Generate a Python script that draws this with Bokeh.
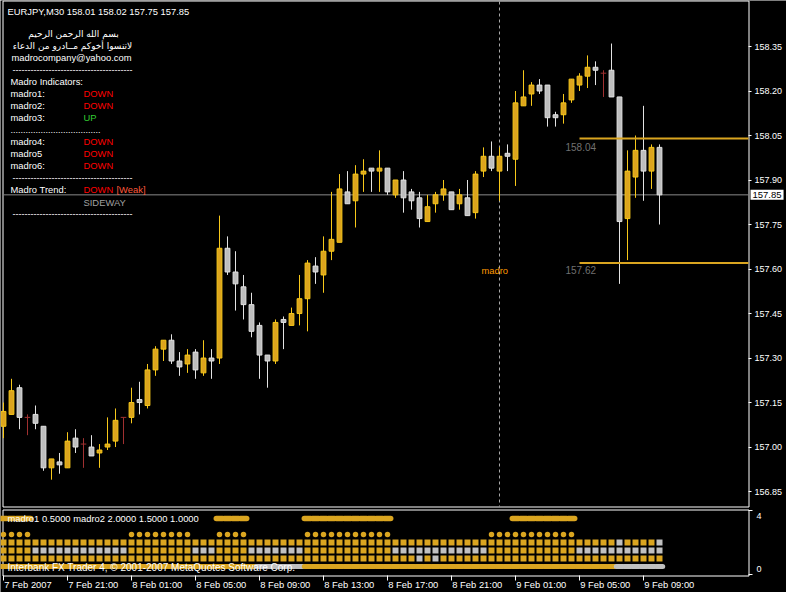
from bokeh.plotting import figure
from bokeh.models import Range1d, FixedTicker, Label, NumeralTickFormatter
from bokeh.embed import file_html
from bokeh.resources import INLINE

# ------------------------------------------------------------------ data
symbol_title = "EURJPY,M30  158.01 158.02 157.75 157.85"

opens = [157.07, 157.11, 157.20, 157.10, 157.11, 157.07, 156.93, 156.95, 156.93, 157.03,
         157.01, 157.00, 156.98, 157.00, 157.02, 157.10, 157.10, 157.16, 157.14, 157.26,
         157.33, 157.36, 157.29, 157.28, 157.32, 157.25, 157.30, 157.30, 157.67, 157.59,
         157.54, 157.48, 157.41, 157.31, 157.29, 157.43, 157.41, 157.45, 157.50, 157.61,
         157.58, 157.66, 157.69, 157.86, 157.83, 157.92, 157.94, 157.93, 157.94, 157.85,
         157.90, 157.86, 157.84, 157.76, 157.82, 157.85, 157.86, 157.82, 157.84, 157.79,
         157.93, 157.98, 157.93, 157.99, 157.97, 158.15, 158.19, 158.22, 158.22, 158.12,
         158.12, 158.17, 158.22, 158.25, 158.28, 158.26, 158.27, 158.18, 157.77, 157.91,
         158.00, 157.93, 158.01]
highs = [157.15, 157.23, 157.21, 157.11, 157.14, 157.07, 156.96, 156.98, 157.05, 157.06,
         157.03, 157.04, 157.01, 157.10, 157.13, 157.10, 157.20, 157.22, 157.28, 157.34,
         157.36, 157.38, 157.32, 157.33, 157.33, 157.36, 157.33, 157.78, 157.71, 157.66,
         157.58, 157.52, 157.42, 157.31, 157.43, 157.44, 157.47, 157.58, 157.63, 157.64,
         157.71, 157.86, 157.92, 157.93, 157.95, 157.97, 157.94, 158.00, 157.94, 157.90,
         157.93, 157.87, 157.86, 157.85, 157.86, 157.90, 157.86, 157.87, 157.90, 157.93,
         158.01, 158.03, 158.01, 158.02, 158.20, 158.27, 158.23, 158.24, 158.22, 158.13,
         158.19, 158.24, 158.26, 158.32, 158.30, 158.27, 158.36, 158.18, 158.00, 158.05,
         158.15, 158.02, 158.02]
lows = [157.03, 157.11, 157.06, 157.04, 157.06, 156.92, 156.89, 156.91, 156.93, 156.98,
        156.93, 156.97, 156.93, 156.99, 157.00, 157.01, 157.08, 157.11, 157.13, 157.24,
        157.29, 157.28, 157.24, 157.25, 157.23, 157.24, 157.23, 157.28, 157.58, 157.46,
        157.43, 157.37, 157.23, 157.20, 157.28, 157.33, 157.41, 157.41, 157.39, 157.55,
        157.52, 157.63, 157.69, 157.82, 157.74, 157.86, 157.86, 157.86, 157.85, 157.84,
        157.79, 157.80, 157.74, 157.76, 157.79, 157.83, 157.80, 157.80, 157.78, 157.77,
        157.91, 157.93, 157.83, 157.93, 157.88, 158.15, 158.15, 158.19, 158.08, 158.08,
        158.09, 158.16, 158.20, 158.21, 158.22, 158.18, 158.18, 157.55, 157.63, 157.84,
        157.83, 157.87, 157.75]
closes = [157.12, 157.19, 157.10, 157.10, 157.08, 156.93, 156.96, 156.94, 157.02, 157.00,
          157.01, 156.97, 156.99, 157.01, 157.09, 157.10, 157.15, 157.15, 157.26, 157.33,
          157.36, 157.29, 157.27, 157.31, 157.26, 157.30, 157.29, 157.67, 157.59, 157.55,
          157.48, 157.39, 157.31, 157.29, 157.42, 157.42, 157.45, 157.50, 157.62, 157.59,
          157.66, 157.70, 157.87, 157.82, 157.92, 157.93, 157.93, 157.94, 157.86, 157.90,
          157.84, 157.83, 157.77, 157.81, 157.85, 157.87, 157.80, 157.85, 157.78, 157.92,
          157.98, 157.94, 157.98, 157.98, 158.16, 158.18, 158.22, 158.20, 158.11, 158.11,
          158.16, 158.24, 158.25, 158.28, 158.27, 158.26, 158.18, 157.76, 157.93, 158.00,
          157.93, 158.01, 157.85]

price_ticks = [156.85, 157.00, 157.15, 157.30, 157.45, 157.60, 157.75, 157.90, 158.05, 158.20, 158.35]
price_tick_labels = ["156.85", "157.00", "157.15", "157.30", "157.45", "157.60",
                     "157.75", "157.90", "158.05", "158.20", "158.35"]
time_ticks = [0, 8, 16, 24, 32, 40, 48, 56, 64, 72, 80]
time_tick_labels = ["7 Feb 2007", "7 Feb 21:00", "8 Feb 01:00", "8 Feb 05:00", "8 Feb 09:00",
                    "8 Feb 13:00", "8 Feb 17:00", "8 Feb 21:00", "9 Feb 01:00", "9 Feb 05:00",
                    "9 Feb 09:00"]
sub_ticks = [0, 4]
sub_tick_labels = ["0", "4"]

level_values = [158.04, 157.62]
level_labels = ["158.04", "157.62"]
level_start_bar = 72
marker_bar = 62

indicator_names = ["madro1:", "madro2:", "madro3:", "madro4:", "madro5", "madro6:"]
indicator_states = ["DOWN", "DOWN", "UP", "DOWN", "DOWN", "DOWN"]

# sub window rows (1 = gold / on, 0 = silver / off), one value per bar
row_a = [1, 1, 1, 1, 0, 0, 0, 0, 0, 0,  0, 0, 0, 0, 0, 0, 0, 0, 0, 0,
         0, 0, 0, 0, 0, 0, 0, 1, 1, 1,  1, 0, 0, 0, 0, 0, 0, 0, 1, 1,
         1, 1, 1, 1, 1, 1, 1, 1, 1, 0,  0, 0, 0, 0, 0, 0, 0, 0, 0, 0,
         0, 0, 0, 0, 1, 1, 1, 1, 1, 1,  1, 1, 0, 0, 0, 0, 0, 0, 0, 0,
         0, 0, 0]
row_b = [1, 1, 1, 1, 0, 0, 0, 0, 0, 0,  0, 0, 0, 0, 0, 0, 1, 1, 1, 1,
         1, 1, 1, 1, 0, 0, 0, 1, 1, 1,  1, 0, 0, 0, 0, 0, 0, 0, 1, 1,
         1, 1, 1, 1, 1, 1, 1, 1, 1, 0,  0, 0, 0, 0, 0, 0, 0, 0, 0, 0,
         0, 1, 1, 1, 1, 1, 1, 1, 1, 1,  1, 1, 0, 0, 0, 0, 0, 0, 0, 0,
         0, 0, 0]
row_c = [1, 1, 1, 1, 1, 1, 1, 1, 1, 1,  1, 1, 1, 1, 1, 1, 1, 1, 1, 1,
         1, 1, 1, 1, 1, 1, 1, 1, 1, 1,  1, 1, 1, 1, 1, 1, 1, 1, 1, 1,
         1, 1, 1, 1, 1, 1, 1, 1, 1, 1,  1, 1, 1, 1, 1, 1, 1, 1, 1, 1,
         1, 1, 1, 1, 1, 1, 1, 1, 1, 1,  1, 1, 1, 1, 1, 1, 1, 0, 1, 1,
         1, 1, 0]
row_d = [1, 1, 1, 1, 0, 0, 0, 0, 0, 0,  0, 0, 0, 0, 0, 0, 1, 1, 1, 1,
         1, 1, 1, 1, 0, 0, 0, 1, 1, 1,  1, 0, 0, 0, 0, 0, 0, 0, 1, 1,
         1, 1, 1, 1, 1, 1, 1, 1, 1, 0,  0, 0, 0, 0, 0, 0, 0, 0, 0, 0,
         0, 1, 1, 1, 1, 1, 1, 1, 1, 1,  1, 1, 0, 0, 0, 0, 0, 0, 0, 0,
         0, 0, 0]
row_e = [1, 1, 1, 1, 1, 1, 1, 1, 1, 1,  1, 1, 1, 1, 1, 1, 1, 1, 1, 1,
         1, 1, 1, 1, 1, 1, 1, 1, 1, 1,  1, 1, 1, 1, 1, 1, 1, 1, 1, 1,
         1, 1, 1, 1, 1, 1, 1, 1, 1, 1,  1, 1, 0, 1, 0, 1, 1, 1, 1, 1,
         1, 1, 1, 1, 1, 1, 1, 1, 1, 1,  1, 1, 1, 1, 1, 1, 1, 1, 1, 1,
         1, 1, 1]
row_f = [1, 1, 1, 1, 1, 1, 1, 1, 1, 1,  1, 1, 1, 1, 1, 1, 1, 1, 1, 1,
         1, 1, 1, 1, 1, 1, 1, 1, 1, 1,  1, 1, 0, 0, 0, 0, 0, 0, 1, 1,
         1, 1, 1, 1, 1, 1, 1, 1, 1, 1,  1, 1, 1, 1, 1, 1, 1, 1, 1, 1,
         1, 1, 1, 1, 1, 1, 1, 1, 1, 1,  1, 1, 1, 1, 1, 1, 1, 0, 0, 0,
         0, 0, 0]
row_levels = {"a": 3.5, "b": 2.5, "c": 2.0, "d": 1.5, "e": 1.0, "f": 0.5}
sub_legend = "madro1 0.5000  madro2 2.0000 1.5000 1.0000"
copyright_text = "Interbank FX Trader 4, \u00a9 2001-2007 MetaQuotes Software Corp."

# ------------------------------------------------------------------ style
BG = "#000000"
FG = "#FFFFFF"
GOLD = "#DAA520"
SILVER = "#C0C0C0"
BULL_FILL, BULL_LINE = "#DCA41E", "#F7C81A"
BEAR_FILL, BEAR_LINE = "#BEBEBE", "#E2E2E2"
DOJI = "#A03030"
FONT = "Liberation Sans"
FS = "9.4px"

n = len(opens)
bars = list(range(n))


# screen-pixel -> data helpers (layout only: bar slot 8 px, price 296.7 px/unit, sub 16 px/unit)
def bx(px):
    return (px - 3) / 8.0


def py(pix):
    return 158.35 - (pix - 46) / 296.7


def sv(pix):
    return (574 - pix) / 16.0


W, H = 786, 592
p = figure(width=W, height=H,
           x_range=Range1d(bx(0), bx(W)), y_range=Range1d(py(H), py(0)),
           output_backend="svg", toolbar_location=None,
           x_axis_location=None, y_axis_location="right")
p.extra_y_ranges = {"sub": Range1d(sv(H), sv(0))}
p.min_border_left = 0
p.min_border_right = 0
p.min_border_top = 0
p.min_border_bottom = 0
p.background_fill_color = BG
p.border_fill_color = BG
p.outline_line_color = None
p.grid.visible = False

# price axis, pinned to the right edge of the main window
ya = p.yaxis[0]
ya.fixed_location = bx(748)
ya.ticker = FixedTicker(ticks=price_ticks)
ya.formatter = NumeralTickFormatter(format="0.00")
ya.major_label_overrides = {t: l for t, l in zip(price_ticks, price_tick_labels)}
ya.major_label_text_color = FG
ya.major_label_text_font = FONT
ya.major_label_text_font_size = "9px"
ya.major_tick_line_color = FG
ya.major_tick_out = 3
ya.major_tick_in = 0
ya.minor_tick_line_color = None
ya.axis_line_color = None
ya.major_label_standoff = 3

# window frames
p.quad(left=[bx(2.5)], right=[bx(748.5)], top=[py(0.5)], bottom=[py(506.5)],
       fill_color=None, line_color=FG, line_width=1)
p.quad(left=[bx(2.5)], right=[bx(748.5)], top=[sv(509.5)], bottom=[sv(575.5)],
       fill_color=None, line_color=FG, line_width=1, y_range_name="sub")

# last price line and vertical marker
p.segment(x0=[bx(3)], x1=[bx(748)], y0=[closes[-1]], y1=[closes[-1]],
          line_color="#8A8A8A", line_width=1)
p.segment(x0=[marker_bar], x1=[marker_bar], y0=[py(1)], y1=[py(506)],
          line_color="#A8A8A8", line_width=1, line_dash="3 3")

# candles
wick_col, body_x, body_top, body_bot, body_fill, body_line = [], [], [], [], [], []
doji_x, doji_y = [], []
for i in bars:
    o, c = opens[i], closes[i]
    if c > o:
        wick_col.append(BULL_LINE)
        body_x.append(i); body_top.append(c); body_bot.append(o)
        body_fill.append(BULL_FILL); body_line.append(BULL_LINE)
    elif c < o:
        wick_col.append(BEAR_LINE)
        body_x.append(i); body_top.append(o); body_bot.append(c)
        body_fill.append(BEAR_FILL); body_line.append(BEAR_LINE)
    else:
        wick_col.append(DOJI)
        doji_x.append(i); doji_y.append(o)

p.segment(x0=bars, y0=lows, x1=bars, y1=highs, line_color=wick_col, line_width=1)
p.vbar(x=body_x, top=body_top, bottom=body_bot, width=0.6,
       fill_color=body_fill, line_color=body_line, line_width=1)
p.segment(x0=[x - 0.35 for x in doji_x], y0=doji_y, x1=[x + 0.35 for x in doji_x],
          y1=doji_y, line_color=DOJI, line_width=1)

# support / resistance levels
p.segment(x0=[level_start_bar] * len(level_values), x1=[bx(748)] * len(level_values),
          y0=level_values, y1=level_values, line_color=GOLD, line_width=2)


def lab(x, y, text, color=FG, align="left", size=FS, font=FONT, yr="default", **kw):
    p.add_layout(Label(x=x, y=y, text=text, text_color=color, text_align=align,
                       text_baseline="middle", text_font=font, text_font_size=size,
                       y_range_name=yr, **kw))


lab(bx(565), py(146), level_labels[0], color="#707070", size="10px")
lab(bx(565), py(269), level_labels[1], color="#707070", size="10px")
lab(bx(481), py(270), "madro", color="#FF9900")

# current price marker box on the price scale
lab(bx(750), closes[-1], "%.2f" % closes[-1], color="#000000", size="9.5px",
    background_fill_color=FG, padding=2)

# info panel text
lab(bx(7), py(11), symbol_title)
lab(bx(73), py(33), "\u0628\u0633\u0645 \u0627\u0644\u0644\u0647 \u0627\u0644\u0631\u062d\u0645\u0646 \u0627\u0644\u0631\u062d\u064a\u0645",
    align="center", font="DejaVu Sans", size="9px")
lab(bx(72), py(45), "\u0644\u0627\u062a\u0646\u0633\u0648\u0627 \u0623\u062e\u0648\u0643\u0645 \u0645\u0640\u0640\u0627\u062f\u0631\u0648 \u0645\u0646 \u0627\u0644\u062f\u0639\u0627\u0621",
    align="center", font="DejaVu Sans", size="9px")
lab(bx(71), py(57), "madrocompany@yahoo.com", align="center")
dash_line = "-" * 40
lab(bx(72), py(69), dash_line, align="center", size="9px")
lab(bx(10), py(81), "Madro Indicators:")
row_y = [93, 105, 117, 141, 153, 165]
for name, state, yy in zip(indicator_names, indicator_states, row_y):
    lab(bx(10), py(yy), name)
    lab(bx(83), py(yy), state, color="#FF0000" if state == "DOWN" else "#33CC33")
lab(bx(10), py(129), "." * 36, size="9px")
lab(bx(72), py(177), dash_line, align="center", size="9px")
lab(bx(10), py(189), "Madro Trend:")
lab(bx(83), py(189), "DOWN", color="#FF0000")
lab(bx(116), py(189), "[Weak]", color="#FF5A3C")
lab(bx(83), py(202), "SIDEWAY", color="#A0A0A0")
lab(bx(72), py(213), dash_line, align="center", size="9px")

# ------------------------------------------------------------------ sub window


def col(v):
    return GOLD if v else SILVER


a_x = [i for i in bars if row_a[i]]
p.segment(x0=[x - 0.4 for x in a_x], x1=[x + 0.4 for x in a_x],
          y0=[row_levels["a"]] * len(a_x), y1=[row_levels["a"]] * len(a_x),
          line_color=GOLD, line_width=5.5, line_cap="round", y_range_name="sub")
p.segment(x0=[x - 0.4 for x in bars], x1=[x + 0.4 for x in bars],
          y0=[row_levels["f"]] * n, y1=[row_levels["f"]] * n,
          line_color=[col(v) for v in row_f], line_width=5, line_cap="round",
          y_range_name="sub")
b_x = [i for i in bars if row_b[i]]
p.scatter(x=b_x, y=[row_levels["b"]] * len(b_x), marker="circle", size=5.5,
          fill_color=GOLD, line_color=None, y_range_name="sub")
for key, row in (("c", row_c), ("d", row_d), ("e", row_e)):
    p.scatter(x=bars, y=[row_levels[key]] * n, marker="square", size=6,
              fill_color=[col(v) for v in row], line_color=None, y_range_name="sub")

lab(bx(7), sv(518), sub_legend, yr="sub")
lab(bx(7), sv(567), copyright_text, yr="sub", size="10px")

# sub window scale (0 .. 4)
p.segment(x0=[bx(748)] * 2, x1=[bx(752)] * 2, y0=sub_ticks, y1=sub_ticks,
          line_color=FG, line_width=1, y_range_name="sub")
lab(bx(756), sv(568), sub_tick_labels[0], yr="sub", size="9px")
lab(bx(756), sv(515), sub_tick_labels[1], yr="sub", size="9px")

# time scale under the sub window
p.segment(x0=time_ticks, x1=time_ticks, y0=[sv(575)] * len(time_ticks),
          y1=[sv(580)] * len(time_ticks), line_color=FG, line_width=1, y_range_name="sub")
for t, txt in zip(time_ticks, time_tick_labels):
    lab(t + 0.1, sv(584), txt, yr="sub")

with open("out.html", "w") as f:
    f.write(file_html(p, INLINE))
